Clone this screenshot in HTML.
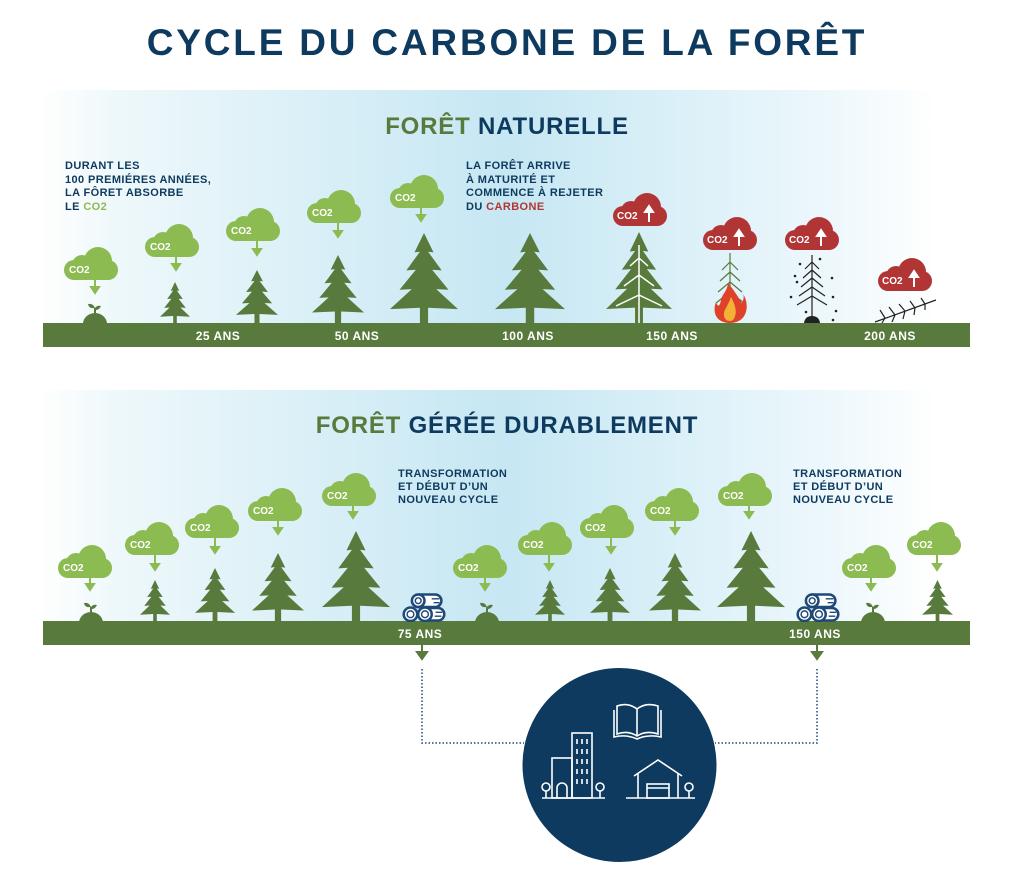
<!DOCTYPE html>
<html><head><meta charset="utf-8"><style>
html,body{margin:0;padding:0;background:#fff;}
svg{display:block;}
text{font-family:"Liberation Sans",sans-serif;font-weight:bold;}
</style></head><body>
<svg width="1024" height="882" viewBox="0 0 1024 882" xmlns="http://www.w3.org/2000/svg">
<defs>
<linearGradient id="bg" x1="0" x2="1" y1="0" y2="0">
<stop offset="0" stop-color="#fff"/>
<stop offset="0.08" stop-color="#eef8fb"/>
<stop offset="0.5" stop-color="#c6e7f3"/>
<stop offset="0.85" stop-color="#eef8fc"/>
<stop offset="0.96" stop-color="#fff"/>
</linearGradient>
<symbol id="tree" viewBox="0 0 100 130" preserveAspectRatio="none">
<path fill="#587a3c" d="M50 0 L64 28 L56 27 L76 54 L62 53 L86 82 L68 81 L100 110 L56 108 L56 130 L44 130 L44 108 L0 110 L32 81 L14 82 L38 53 L24 54 L44 27 L36 28 Z"/>
</symbol>
<symbol id="cg" viewBox="0 0 54 33">
<rect x="0" y="13" width="54" height="20" rx="10" fill="#8cbb52"/>
<circle cx="34" cy="14" r="14" fill="#8cbb52"/>
<circle cx="18" cy="18" r="10" fill="#8cbb52"/>
</symbol>
<symbol id="cr" viewBox="0 0 54 33">
<rect x="0" y="13" width="54" height="20" rx="10" fill="#b23535"/>
<circle cx="34" cy="14" r="14" fill="#b23535"/>
<circle cx="18" cy="18" r="10" fill="#b23535"/>
</symbol>
<symbol id="seed" viewBox="0 0 24 22">
<path fill="#587a3c" d="M0 22 A12 11 0 0 1 24 22 Z M11 12 L11 6 Q6 7 5 2 Q10 1 12 6 Q14 3 18 4 Q16 8 13 8 L13 12 Z"/>
</symbol>
<symbol id="logs" viewBox="0 0 44 30">
<g fill="#fff" stroke="#1f4a78" stroke-width="2.6">
<rect x="10" y="1.5" width="30" height="13" rx="6.5"/>
<circle cx="16" cy="8" r="6.5"/>
<rect x="16" y="15.5" width="27" height="13" rx="6.5"/>
<circle cx="8" cy="22" r="7"/><circle cx="23" cy="22" r="7"/>
</g>
<g fill="none" stroke="#1f4a78" stroke-width="1.5">
<circle cx="16" cy="8" r="3"/><circle cx="8" cy="22" r="3.5"/><circle cx="23" cy="22" r="3.5"/>
<path d="M30 6 L38 6 M32 10 L38 10 M34 20 L41 20 M33 24 L40 24"/>
</g>
</symbol>
</defs>

<text x="507" y="55" text-anchor="middle" font-size="37" fill="#0d3a5e" letter-spacing="2.8">CYCLE DU CARBONE DE LA FORÊT</text>

<rect x="40" y="90" width="935" height="235" fill="url(#bg)"/>
<rect x="40" y="390" width="935" height="233" fill="url(#bg)"/>

<text x="507" y="134" text-anchor="middle" font-size="24" letter-spacing="0.8"><tspan fill="#587a3c">FORÊT</tspan><tspan fill="#0d3a5e"> NATURELLE</tspan></text>
<text x="507" y="433" text-anchor="middle" font-size="24" letter-spacing="0.8"><tspan fill="#587a3c">FORÊT</tspan><tspan fill="#0d3a5e"> GÉRÉE DURABLEMENT</tspan></text>

<g font-size="11" fill="#0d3a5e" letter-spacing="0.4">
<text x="65" y="169">DURANT LES</text>
<text x="65" y="183">100 PREMIÉRES ANNÉES,</text>
<text x="65" y="196">LA FÔRET ABSORBE</text>
<text x="65" y="210">LE <tspan fill="#8cbb52">CO2</tspan></text>
<text x="466" y="169">LA FORÊT ARRIVE</text>
<text x="466" y="183">À MATURITÉ ET</text>
<text x="466" y="196">COMMENCE À REJETER</text>
<text x="466" y="210">DU <tspan fill="#b23535">CARBONE</tspan></text>
<text x="398" y="477">TRANSFORMATION</text>
<text x="398" y="490">ET DÉBUT D’UN</text>
<text x="398" y="503">NOUVEAU CYCLE</text>
<text x="793" y="477">TRANSFORMATION</text>
<text x="793" y="490">ET DÉBUT D’UN</text>
<text x="793" y="503">NOUVEAU CYCLE</text>
</g>

<rect x="43" y="323" width="927" height="24" fill="#587a3c"/>
<rect x="43" y="621" width="927" height="24" fill="#587a3c"/>
<g font-size="12" fill="#fff" letter-spacing="0.5">
<text x="218" y="340" text-anchor="middle">25 ANS</text>
<text x="357" y="340" text-anchor="middle">50 ANS</text>
<text x="528" y="340" text-anchor="middle">100 ANS</text>
<text x="672" y="340" text-anchor="middle">150 ANS</text>
<text x="890" y="340" text-anchor="middle">200 ANS</text>
<text x="420" y="638" text-anchor="middle">75 ANS</text>
<text x="815" y="638" text-anchor="middle">150 ANS</text>
</g>

<use href="#seed" x="83" y="302" width="24" height="22"/>
<use href="#tree" x="160" y="282" width="30" height="41"/>
<use href="#tree" x="236" y="270" width="42" height="53"/>
<use href="#tree" x="312" y="255" width="52" height="68"/>
<use href="#tree" x="390" y="233" width="68" height="90"/>
<use href="#tree" x="495" y="233" width="70" height="90"/>
<g>
<use href="#tree" x="606" y="232" width="66" height="91"/>
<g stroke="#fff" stroke-width="1.5" fill="none">
<path d="M639 245 L639 323 M639 258 L630 266 M639 258 L648 266 M639 275 L624 286 M639 275 L654 286 M639 295 L616 306 M639 295 L662 306"/>
</g>
</g>
<g stroke="#587a3c" stroke-width="1.2" fill="none">
<path d="M730 253 L730 320 M730 262 L722 270 M730 262 L738 270 M730 272 L720 281 M730 272 L740 281 M730 282 L718 292 M730 282 L742 292 M730 292 L716 303 M730 292 L744 303"/>
</g>
<path d="M730 323 C716 323 712 312 716 302 C718 308 720 306 721 300 C722 294 727 292 728 283 C734 290 740 300 742 303 C744 299 744 296 743 294 C750 304 748 323 730 323 Z" fill="#e0412a"/>
<path d="M730 321 C724 321 722 314 726 308 C728 304 730 300 731 297 C735 304 737 312 735 316 C734 320 732 321 730 321 Z" fill="#f2b233"/>
<g stroke="#222" stroke-width="1.2" fill="none">
<path d="M812 255 L812 318 M812 262 L805 269 M812 262 L819 269 M812 270 L803 278 M812 270 L821 278 M812 278 L801 287 M812 278 L823 287 M812 287 L799 296 M812 287 L825 296 M812 296 L797 305 M812 296 L827 305"/>
</g>
<path d="M804 323 Q805 316 812 316 Q819 316 820 323 Z" fill="#222"/>
<g fill="#222"><circle cx="800" cy="264" r="1.3"/><circle cx="820" cy="259" r="1.3"/><circle cx="795" cy="276" r="1.3"/><circle cx="797" cy="282" r="1.3"/><circle cx="832" cy="278" r="1.3"/><circle cx="791" cy="297" r="1.3"/><circle cx="833" cy="297" r="1.3"/><circle cx="806" cy="312" r="1.3"/><circle cx="836" cy="311" r="1.3"/><circle cx="833" cy="320" r="1.3"/></g>
<g stroke="#222" stroke-width="1.2" fill="none">
<path d="M875 322 L936 300 M885 318 L880 310 M885 318 L882 323 M895 315 L889 307 M895 315 L892 322 M905 311 L899 304 M905 311 L903 319 M915 308 L910 301 M915 308 L914 315 M925 304 L921 298 M925 304 L925 310"/>
</g>

<g font-size="10" fill="#fff">
<use href="#cg" x="64" y="247" width="54" height="33"/><text x="69" y="273">CO2</text>
<use href="#cg" x="145" y="224" width="54" height="33"/><text x="150" y="250">CO2</text>
<use href="#cg" x="226" y="208" width="54" height="33"/><text x="231" y="234">CO2</text>
<use href="#cg" x="307" y="190" width="54" height="33"/><text x="312" y="216">CO2</text>
<use href="#cg" x="390" y="175" width="54" height="33"/><text x="395" y="201">CO2</text>
<use href="#cr" x="613" y="193" width="54" height="33"/><text x="617" y="219">CO2</text>
<use href="#cr" x="703" y="217" width="54" height="33"/><text x="707" y="243">CO2</text>
<use href="#cr" x="785" y="217" width="54" height="33"/><text x="789" y="243">CO2</text>
<use href="#cr" x="878" y="258" width="54" height="33"/><text x="882" y="284">CO2</text>
</g>
<g stroke="#fff" stroke-width="2" fill="#fff">
<path d="M649 222 L649 210"/><path d="M645 212 L649 206 L653 212 Z"/>
<path d="M739 246 L739 234"/><path d="M735 236 L739 230 L743 236 Z"/>
<path d="M821 246 L821 234"/><path d="M817 236 L821 230 L825 236 Z"/>
<path d="M914 287 L914 275"/><path d="M910 277 L914 271 L918 277 Z"/>
</g>
<g stroke="#8cbb52" stroke-width="2" fill="#8cbb52">
<path d="M95 280 L95 288"/><path d="M91 287 L95 293 L99 287 Z"/>
<path d="M176 257 L176 265"/><path d="M172 264 L176 270 L180 264 Z"/>
<path d="M257 241 L257 250"/><path d="M253 249 L257 255 L261 249 Z"/>
<path d="M338 223 L338 232"/><path d="M334 231 L338 237 L342 231 Z"/>
<path d="M421 208 L421 216"/><path d="M417 215 L421 221 L425 215 Z"/>
</g>

<use href="#seed" x="79" y="601" width="24" height="22"/>
<use href="#tree" x="140" y="580" width="30" height="41"/>
<use href="#tree" x="195" y="568" width="40" height="53"/>
<use href="#tree" x="252" y="553" width="52" height="68"/>
<use href="#tree" x="322" y="531" width="68" height="90"/>
<use href="#logs" x="402" y="593" width="44" height="29"/>
<use href="#seed" x="475" y="601" width="24" height="22"/>
<use href="#tree" x="535" y="580" width="30" height="41"/>
<use href="#tree" x="590" y="568" width="40" height="53"/>
<use href="#tree" x="649" y="553" width="52" height="68"/>
<use href="#tree" x="717" y="531" width="68" height="90"/>
<use href="#logs" x="796" y="593" width="44" height="29"/>
<use href="#seed" x="861" y="601" width="24" height="22"/>
<use href="#tree" x="922" y="580" width="31" height="41"/>

<g font-size="10" fill="#fff">
<use href="#cg" x="58" y="545" width="54" height="33"/><text x="63" y="571">CO2</text>
<use href="#cg" x="125" y="522" width="54" height="33"/><text x="130" y="548">CO2</text>
<use href="#cg" x="185" y="505" width="54" height="33"/><text x="190" y="531">CO2</text>
<use href="#cg" x="248" y="488" width="54" height="33"/><text x="253" y="514">CO2</text>
<use href="#cg" x="322" y="473" width="54" height="33"/><text x="327" y="499">CO2</text>
<use href="#cg" x="453" y="545" width="54" height="33"/><text x="458" y="571">CO2</text>
<use href="#cg" x="518" y="522" width="54" height="33"/><text x="523" y="548">CO2</text>
<use href="#cg" x="580" y="505" width="54" height="33"/><text x="585" y="531">CO2</text>
<use href="#cg" x="645" y="488" width="54" height="33"/><text x="650" y="514">CO2</text>
<use href="#cg" x="718" y="473" width="54" height="33"/><text x="723" y="499">CO2</text>
<use href="#cg" x="842" y="545" width="54" height="33"/><text x="847" y="571">CO2</text>
<use href="#cg" x="907" y="522" width="54" height="33"/><text x="912" y="548">CO2</text>
</g>
<g stroke="#8cbb52" stroke-width="2" fill="#8cbb52">
<path d="M90 578 L90 585"/><path d="M86 584 L90 590 L94 584 Z"/>
<path d="M155 555 L155 566"/><path d="M151 564 L155 570 L159 564 Z"/>
<path d="M215 538 L215 549"/><path d="M211 547 L215 553 L219 547 Z"/>
<path d="M278 521 L278 530"/><path d="M274 528 L278 534 L282 528 Z"/>
<path d="M353 506 L353 513"/><path d="M349 512 L353 518 L357 512 Z"/>
<path d="M485 578 L485 585"/><path d="M481 584 L485 590 L489 584 Z"/>
<path d="M549 555 L549 566"/><path d="M545 564 L549 570 L553 564 Z"/>
<path d="M611 538 L611 549"/><path d="M607 547 L611 553 L615 547 Z"/>
<path d="M675 521 L675 530"/><path d="M671 528 L675 534 L679 528 Z"/>
<path d="M749 506 L749 513"/><path d="M745 512 L749 518 L753 512 Z"/>
<path d="M871 578 L871 585"/><path d="M867 584 L871 590 L875 584 Z"/>
<path d="M937 555 L937 566"/><path d="M933 564 L937 570 L941 564 Z"/>
</g>

<g fill="#587a3c" stroke="#587a3c" stroke-width="2">
<path d="M422 645 L422 653"/><path d="M417 652 L422 659 L427 652 Z"/>
<path d="M817 645 L817 653"/><path d="M812 652 L817 659 L822 652 Z"/>
</g>
<g stroke="#1f4a78" stroke-width="1.5" fill="none" stroke-dasharray="1.5 2">
<path d="M422 669 L422 743 L524 743"/>
<path d="M817 669 L817 743 L715 743"/>
</g>

<circle cx="619.5" cy="765" r="97" fill="#0d3a5e"/>
<g stroke="#fff" stroke-width="1.6" fill="none">
<path d="M542 798 L605 798"/>
<rect x="552" y="758" width="20" height="40"/>
<rect x="572" y="733" width="20" height="65"/>
<path d="M557 798 L557 788 A5 5 0 0 1 567 788 L567 798"/>
<circle cx="546" cy="787" r="4"/><path d="M546 791 L546 798"/>
<circle cx="600" cy="787" r="4"/><path d="M600 791 L600 798"/>
<path d="M577 739 L577 744 M582 739 L582 744 M587 739 L587 744 M577 749 L577 754 M582 749 L582 754 M587 749 L587 754 M577 759 L577 764 M582 759 L582 764 M587 759 L587 764 M577 769 L577 774 M582 769 L582 774 M587 769 L587 774 M577 779 L577 784 M582 779 L582 784 M587 779 L587 784"/>
<path d="M617 706 L617 734 Q628 730 637 736 Q646 730 658 734 L658 706 Q646 702 637 709 Q628 702 617 706 Z"/>
<path d="M637 709 L637 736"/>
<path d="M614 710 L614 737 Q626 734 637 739 Q648 734 661 737 L661 710"/>
<path d="M626 798 L695 798"/>
<path d="M634 776 L658 760 L682 776"/>
<path d="M638 774 L638 798 M678 774 L678 798"/>
<rect x="647" y="784" width="22" height="14"/>
<path d="M647 788 L669 788"/>
<circle cx="689" cy="787" r="4"/><path d="M689 791 L689 798"/>
</g>
</svg>
</body></html>
